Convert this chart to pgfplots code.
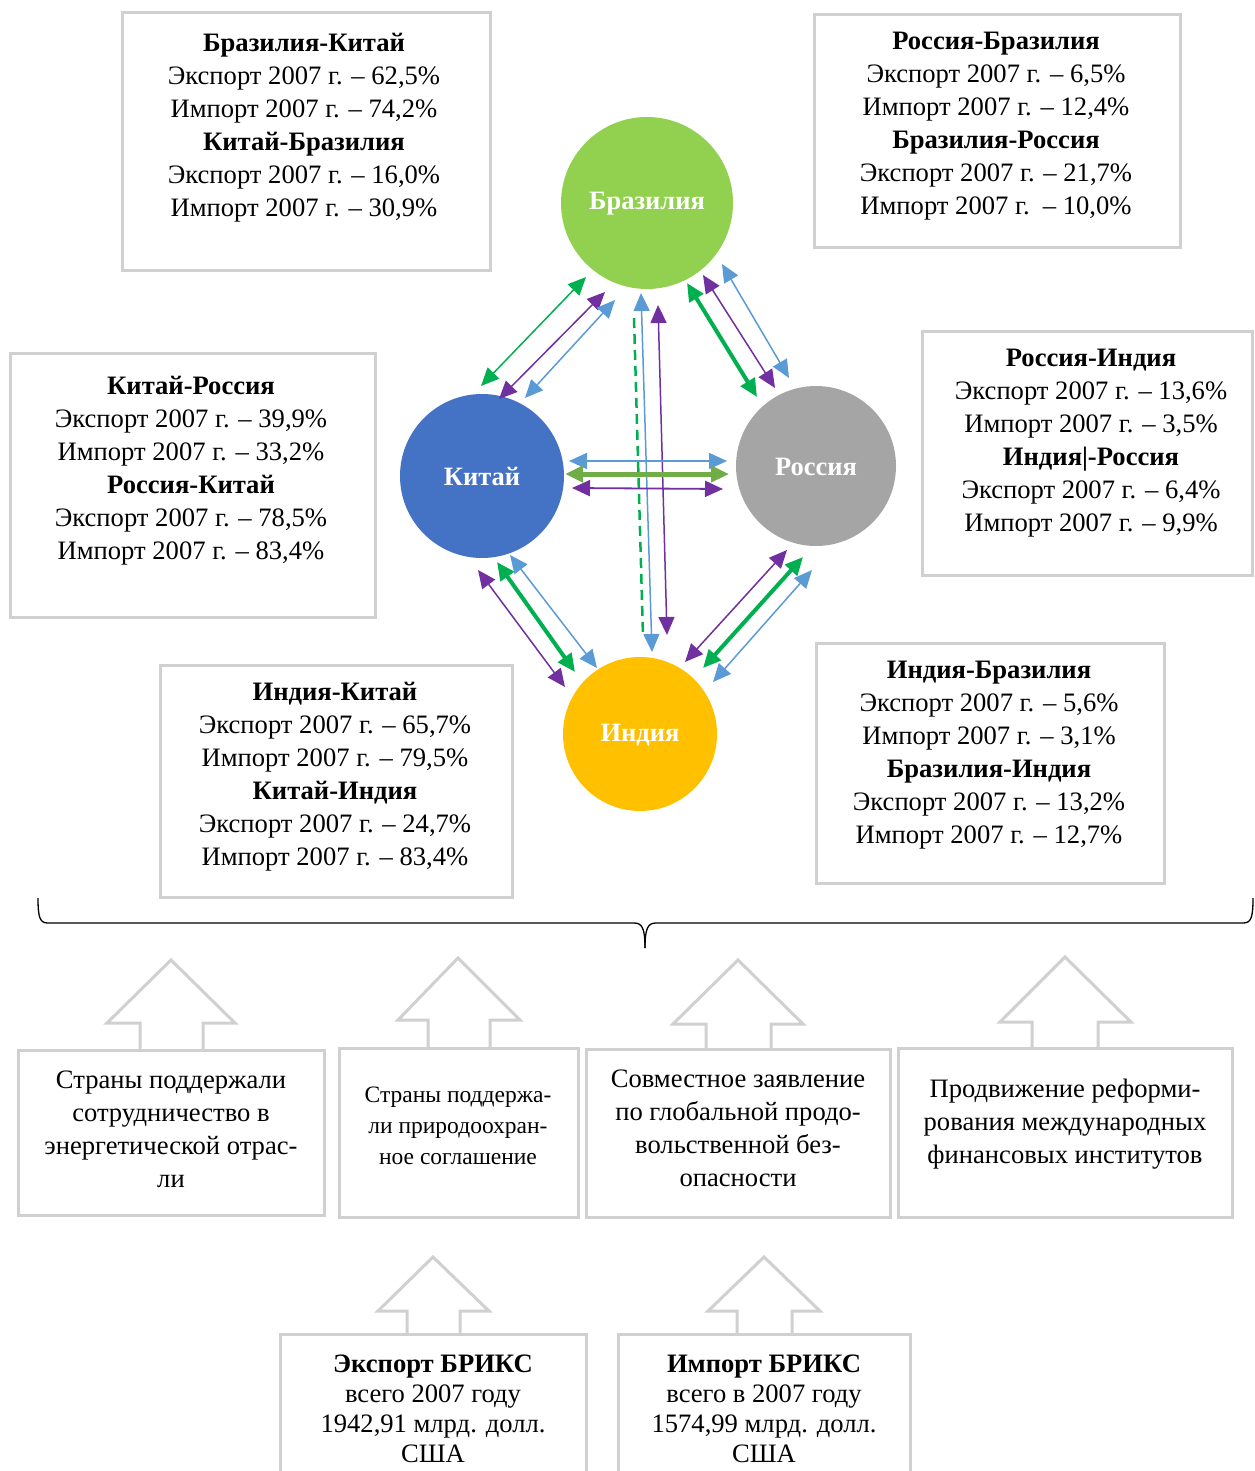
\documentclass[border=0pt]{standalone}
\usepackage{fontspec}
\setmainfont{Liberation Serif}
\usepackage{pgfplots}
\pgfplotsset{compat=1.18}
\usetikzlibrary{arrows.meta}
\definecolor{cBra}{RGB}{146,208,80}
\definecolor{cChi}{RGB}{68,114,196}
\definecolor{cRus}{RGB}{165,165,165}
\definecolor{cInd}{RGB}{255,192,0}
\definecolor{gA}{RGB}{0,176,80}
\definecolor{pA}{RGB}{112,48,160}
\definecolor{bA}{RGB}{91,155,213}
\definecolor{oA}{RGB}{112,173,71}
\definecolor{bord}{RGB}{208,208,208}
\begin{document}
\begin{tikzpicture}[
 tip/.style={{Triangle[length=18pt,width=16pt]}-{Triangle[length=18pt,width=16pt]}},
 box/.style={draw=bord, line width=3pt},
 txt/.style={align=center, font=\fontsize{26.6}{33}\selectfont, inner sep=0pt},
 ctxt/.style={text=white, font=\bfseries\fontsize{26.5}{30}\selectfont, inner sep=0pt},
 blk/.style={draw=bord, line width=3pt, line join=miter},
]
\begin{axis}[scale only axis, width=1254pt, height=1471pt,
  xmin=0, xmax=1254, ymin=0, ymax=1471, y dir=reverse,
  hide axis, clip=false, no markers]

% information boxes
\draw[box] (122,13) rectangle (490,270);
\draw[box] (814,15) rectangle (1180,248);
\draw[box] (10,353) rectangle (375,617);
\draw[box] (922,331) rectangle (1252,575);
\draw[box] (160,665) rectangle (512,897);
\draw[box] (816,643) rectangle (1164,883);

\node[txt] at (304,127.5) {\textbf{Бразилия-Китай}\\Экспорт 2007 г. – 62,5\%\\Импорт 2007 г. – 74,2\%\\\textbf{Китай-Бразилия}\\Экспорт 2007 г. – 16,0\%\\Импорт 2007 г. – 30,9\%};
\node[txt] at (996,126.5) {\textbf{Россия-Бразилия}\\Экспорт 2007 г. – 6,5\%\\Импорт 2007 г. – 12,4\%\\\textbf{Бразилия-Россия}\\Экспорт 2007 г. – 21,7\%\\Импорт 2007 г.\ \ – 10,0\%};
\node[txt] at (191,470.5) {\textbf{Китай-Россия}\\Экспорт 2007 г. – 39,9\%\\Импорт 2007 г. – 33,2\%\\\textbf{Россия-Китай}\\Экспорт 2007 г. – 78,5\%\\Импорт 2007 г. – 83,4\%};
\node[txt] at (1091,443.5) {\textbf{Россия-Индия}\\Экспорт 2007 г. – 13,6\%\\Импорт 2007 г. – 3,5\%\\\textbf{Индия|-Россия}\\Экспорт 2007 г. – 6,4\%\\Импорт 2007 г. – 9,9\%};
\node[txt] at (335,777) {\textbf{Индия-Китай}\\Экспорт 2007 г. – 65,7\%\\Импорт 2007 г. – 79,5\%\\\textbf{Китай-Индия}\\Экспорт 2007 г. – 24,7\%\\Импорт 2007 г. – 83,4\%};
\node[txt] at (989,755.5) {\textbf{Индия-Бразилия}\\Экспорт 2007 г. – 5,6\%\\Импорт 2007 г. – 3,1\%\\\textbf{Бразилия-Индия}\\Экспорт 2007 г. – 13,2\%\\Импорт 2007 г. – 12,7\%};

% circles
\fill[cBra] (647,203) circle[radius=86pt];
\fill[cChi] (482,476) circle[radius=82pt];
\fill[cRus] (816,466) circle[radius=80pt];
\fill[cInd] (640,734) circle[radius=77pt];
\node[ctxt] at (647,204) {Бразилия};
\node[ctxt] at (482,477) {Китай};
\node[ctxt] at (816,467) {Россия};
\node[ctxt] at (640,735) {Индия};

% Brazil - China
\addplot[gA, line width=1.5pt, tip] coordinates {(586,277) (481,386)};
\addplot[pA, line width=1.5pt, tip] coordinates {(605,292) (499,399)};
\addplot[bA, line width=1.5pt, tip] coordinates {(615,300) (525,398)};
% Brazil - India
\addplot[gA, line width=2.5pt, dash pattern=on 10pt off 6pt] coordinates {(634,318) (643,636)};
\addplot[bA, line width=1.5pt, tip] coordinates {(641,293) (652,652)};
\addplot[pA, line width=1.5pt, tip] coordinates {(658,305) (667,635)};
% Brazil - Russia
\addplot[gA, line width=4pt, tip] coordinates {(687,283) (757,397)};
\addplot[pA, line width=1.5pt, tip] coordinates {(703,275) (775,388)};
\addplot[bA, line width=1.5pt, tip] coordinates {(722,264) (789,378)};
% China - Russia
\addplot[bA, line width=1.8pt, tip] coordinates {(569,461) (727,461)};
\addplot[oA, line width=5pt, tip] coordinates {(565,474) (729,474)};
\addplot[pA, line width=1.8pt, tip] coordinates {(572,488) (723,489)};
% China - India
\addplot[pA, line width=1.5pt, tip] coordinates {(478,570) (565,687)};
\addplot[gA, line width=4pt, tip] coordinates {(497,562) (575,672)};
\addplot[bA, line width=1.5pt, tip] coordinates {(510,555) (597,668)};
% India - Russia
\addplot[pA, line width=1.5pt, tip] coordinates {(685,662) (787,550)};
\addplot[gA, line width=4pt, tip] coordinates {(703,668) (803,557)};
\addplot[bA, line width=1.5pt, tip] coordinates {(713,682) (812,570)};

% brace
\draw[black, line width=1.3pt] (38,898) .. controls (38,918) and (40,923) .. (48,923) -- (634,923) .. controls (642,923) and (645,928) .. (645,948);
\draw[black, line width=1.3pt] (645,948) .. controls (645,928) and (648,923) .. (656,923) -- (1243,923) .. controls (1251,923) and (1253,918) .. (1253,898);

% lower boxes
\draw[box] (18,1050) rectangle (324,1215);
\draw[box] (339,1048) rectangle (578,1217);
\draw[box] (586,1049) rectangle (890,1217);
\draw[box] (898,1048) rectangle (1232,1217);
\draw[box] (280,1334) rectangle (586,1495);
\draw[box] (618,1334) rectangle (910,1495);

% block arrows
\draw[blk] (140,1050) -- (140,1023) -- (107,1023) -- (171,960) -- (235,1023) -- (203,1023) -- (203,1050);
\draw[blk] (428,1048) -- (428,1020) -- (398,1020) -- (458,958) -- (520,1020) -- (490,1020) -- (490,1048);
\draw[blk] (706,1049) -- (706,1024) -- (673,1024) -- (738,960) -- (803,1024) -- (771,1024) -- (771,1049);
\draw[blk] (1032,1048) -- (1032,1022) -- (1000,1022) -- (1065,957) -- (1131,1022) -- (1098,1022) -- (1098,1048);
\draw[blk] (407,1334) -- (407,1311) -- (378,1311) -- (433,1257) -- (489,1311) -- (460,1311) -- (460,1334);
\draw[blk] (737,1334) -- (737,1311) -- (708,1311) -- (764,1257) -- (820,1311) -- (792,1311) -- (792,1334);

\node[txt] at (171,1129) {Страны поддержали\\сотрудничество в\\энергетической отрас-\\ли};
\node[txt, font=\fontsize{23.5}{31}\selectfont] at (458,1125.5) {Страны поддержа-\\ли природоохран-\\ное соглашение};
\node[txt] at (738,1128) {Совместное заявление\\по глобальной продо-\\вольственной без-\\опасности};
\node[txt] at (1065,1124.5) {Продвижение реформи-\\рования международных\\финансовых институтов};
\node[txt, font=\fontsize{26.6}{30}\selectfont] at (433,1409) {\textbf{Экспорт БРИКС}\\всего 2007 году\\1942,91 млрд. долл.\\США};
\node[txt, font=\fontsize{26.6}{30}\selectfont] at (764,1409) {\textbf{Импорт БРИКС}\\всего в 2007 году\\1574,99 млрд. долл.\\США};
\end{axis}
\pgfresetboundingbox
\path (0,0) rectangle (1254pt,1471pt);
\end{tikzpicture}
\end{document}
